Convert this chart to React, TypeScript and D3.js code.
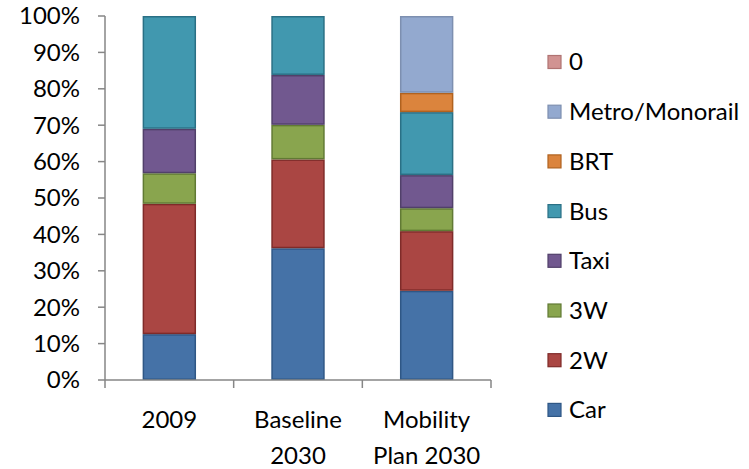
import React from "react";
import * as d3 from "d3";

// Mode share by scenario (percent of trips)
const categories: string[][] = [["2009"], ["Baseline", "2030"], ["Mobility", "Plan 2030"]];
const seriesNames = ["Car", "2W", "3W", "Taxi", "Bus", "BRT", "Metro/Monorail", "0"];
const car = [12.6, 36.2, 24.5];
const twoWheeler = [35.8, 24.4, 16.4];
const threeWheeler = [8.4, 9.5, 6.3];
const taxi = [12.2, 13.7, 9.1];
const bus = [31.0, 16.2, 17.3];
const brt = [0, 0, 5.3];
const metro = [0, 0, 21.1];
const zero = [0, 0, 0];
const yTicks = [0, 10, 20, 30, 40, 50, 60, 70, 80, 90, 100];

const fills = ["#4572A7", "#AA4643", "#89A54E", "#71588F", "#4198AF", "#DB843D", "#93A9CF", "#D19392"];
const strokes = ["#2f5785", "#7f2b29", "#617a34", "#51406a", "#2a7085", "#b0621f", "#7d8fb0", "#b07372"];

const W = 749;
const H = 469;
const FONT = "Lato, 'Open Sans', sans-serif";
const FS = 24;

export default function App() {
  const values = [car, twoWheeler, threeWheeler, taxi, bus, brt, metro, zero];
  const rows = categories.map((_, i) => {
    const r: Record<string, number> = { idx: i };
    seriesNames.forEach((n, s) => (r[n] = values[s][i]));
    return r;
  });
  const stacked = d3.stack<Record<string, number>>().keys(seriesNames)(rows);

  const x = d3
    .scaleBand<number>()
    .domain([0, 1, 2])
    .range([105, 491])
    .paddingInner(0.585)
    .paddingOuter(0.2925);
  const step = x.step();
  const y = d3.scaleLinear().domain([0, 100]).range([380, 16]);

  const axisColor = "#868686";

  return (
    <svg width={W} height={H} style={{ position: "absolute", left: 0, top: 0, background: "#fff" }}>
      {/* bars */}
      {stacked.map((layer, s) => (
        <g key={seriesNames[s]}>
          {layer.map((d, i) => {
            const h = y(d[0]) - y(d[1]);
            if (h <= 0) return null;
            return (
              <rect
                key={i}
                x={(x(i) as number) + 0.75}
                y={y(d[1]) + 0.75}
                width={x.bandwidth() - 1.5}
                height={Math.max(0, h - 1.5)}
                fill={fills[s]}
                stroke={strokes[s]}
                strokeWidth={1.5}
              />
            );
          })}
        </g>
      ))}

      {/* y axis */}
      <line x1={105} x2={105} y1={16} y2={380} stroke={axisColor} strokeWidth={1.5} />
      {yTicks.map((t) => (
        <g key={t}>
          <line x1={98} x2={105} y1={y(t)} y2={y(t)} stroke={axisColor} strokeWidth={1.5} />
          <text x={80} y={y(t)} dy="0.35em" textAnchor="end" fontFamily={FONT} fontSize={FS} fill="#000">
            {t}%
          </text>
        </g>
      ))}

      {/* x axis */}
      <line x1={105} x2={491} y1={380} y2={380} stroke={axisColor} strokeWidth={1.5} />
      {[0, 1, 2, 3].map((k) => {
        const px = 105 + k * step;
        return <line key={k} x1={px} x2={px} y1={380} y2={388} stroke={axisColor} strokeWidth={1.5} />;
      })}
      {categories.map((lines, i) => (
        <text
          key={i}
          x={(x(i) as number) + x.bandwidth() / 2}
          y={428}
          textAnchor="middle"
          fontFamily={FONT}
          fontSize={FS}
          fill="#000"
        >
          {lines.map((ln, j) => (
            <tspan key={j} x={(x(i) as number) + x.bandwidth() / 2} dy={j === 0 ? 0 : 36}>
              {ln}
            </tspan>
          ))}
        </text>
      ))}

      {/* legend, top to bottom in reverse stacking order */}
      {seriesNames
        .map((n, s) => ({ n, s }))
        .reverse()
        .map(({ n, s }, k) => {
          const cy = 62 + k * 49.7;
          return (
            <g key={n}>
              <rect x={548} y={cy - 6.5} width={13} height={13} fill={fills[s]} stroke={strokes[s]} strokeWidth={1.2} />
              <text x={569} y={cy} dy="0.35em" fontFamily={FONT} fontSize={FS} fill="#000">
                {n}
              </text>
            </g>
          );
        })}
    </svg>
  );
}
